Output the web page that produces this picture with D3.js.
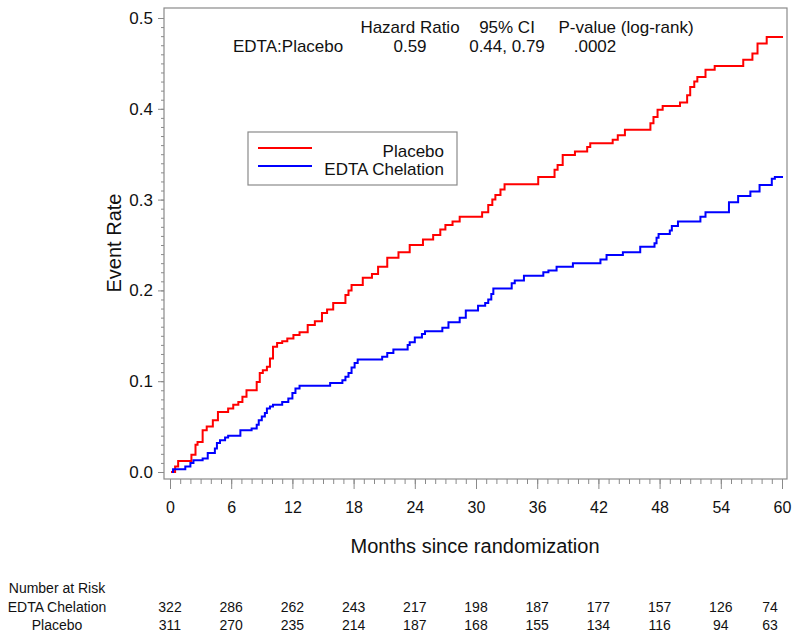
<!DOCTYPE html>
<html>
<head>
<meta charset="utf-8">
<script src="https://cdn.jsdelivr.net/npm/d3@7"></script>
<style>
  body { margin: 0; background: #fff; }
  svg { display: block; font-family: "Liberation Sans", Arial, Helvetica, sans-serif; }
</style>
</head>
<body>
<svg id="chart" width="800" height="640"></svg>
<script>
// ---------- data ----------
const placeboTimes = [0.1, 0.5, 0.8, 2.1, 2.5, 2.7, 3.2, 3.6, 4.2, 4.7, 5.7, 6.2, 6.7, 7.1, 7.5, 8.5, 8.8, 9.1, 9.5, 9.8, 10.1, 10.5, 11.0, 11.5, 12.1, 12.7, 13.5, 14.2, 14.9, 15.4, 16.0, 17.2, 17.5, 17.8, 18.9, 19.8, 20.4, 21.3, 22.4, 23.5, 24.8, 25.8, 26.5, 27.0, 27.7, 28.4, 30.6, 31.2, 31.6, 31.9, 32.4, 32.8, 36.1, 37.7, 38.0, 38.5, 39.7, 40.9, 41.2, 43.4, 43.9, 44.6, 47.1, 47.4, 47.8, 48.3, 50.0, 50.7, 51.0, 51.4, 51.7, 52.5, 53.4, 56.2, 57.1, 57.6, 58.5, 60.1];
const placeboRates = [0, 0.006, 0.012, 0.019, 0.030, 0.033, 0.046, 0.050, 0.057, 0.066, 0.070, 0.074, 0.077, 0.083, 0.090, 0.099, 0.109, 0.112, 0.116, 0.125, 0.138, 0.142, 0.144, 0.147, 0.151, 0.154, 0.162, 0.166, 0.175, 0.179, 0.186, 0.195, 0.200, 0.206, 0.214, 0.218, 0.226, 0.236, 0.242, 0.250, 0.256, 0.261, 0.267, 0.272, 0.276, 0.281, 0.286, 0.294, 0.300, 0.305, 0.311, 0.317, 0.325, 0.333, 0.338, 0.349, 0.353, 0.358, 0.362, 0.366, 0.371, 0.377, 0.384, 0.391, 0.399, 0.403, 0.407, 0.415, 0.424, 0.430, 0.435, 0.443, 0.447, 0.454, 0.461, 0.472, 0.479, 0.479];

const edtaTimes = [0.2, 0.3, 1.5, 2.0, 2.3, 3.2, 3.7, 4.4, 4.6, 4.9, 5.4, 5.7, 6.9, 8.0, 8.5, 8.7, 9.0, 9.3, 9.5, 9.8, 10.1, 11.0, 11.6, 12.0, 12.3, 12.7, 15.7, 16.9, 17.2, 17.5, 17.8, 18.1, 18.4, 20.8, 21.3, 21.9, 23.3, 23.5, 24.0, 24.7, 25.0, 26.7, 27.3, 28.4, 29.0, 30.2, 30.9, 31.2, 31.5, 31.7, 33.5, 33.8, 34.7, 36.6, 37.1, 37.9, 39.5, 42.2, 42.8, 44.4, 46.1, 47.5, 47.7, 47.9, 49.0, 49.2, 49.8, 52.0, 52.5, 54.8, 55.7, 56.9, 57.8, 59.0, 59.3, 60.1];
const edtaRates = [0, 0.003, 0.006, 0.010, 0.013, 0.015, 0.021, 0.026, 0.032, 0.035, 0.038, 0.040, 0.046, 0.048, 0.052, 0.057, 0.061, 0.065, 0.070, 0.072, 0.074, 0.077, 0.081, 0.087, 0.092, 0.095, 0.098, 0.101, 0.105, 0.109, 0.115, 0.120, 0.124, 0.127, 0.131, 0.135, 0.140, 0.143, 0.148, 0.152, 0.155, 0.159, 0.165, 0.170, 0.178, 0.183, 0.186, 0.190, 0.196, 0.202, 0.208, 0.211, 0.216, 0.220, 0.222, 0.226, 0.230, 0.234, 0.239, 0.242, 0.248, 0.252, 0.258, 0.262, 0.266, 0.271, 0.276, 0.281, 0.286, 0.297, 0.304, 0.309, 0.316, 0.323, 0.325, 0.325];

const xTickValues = [0, 6, 12, 18, 24, 30, 36, 42, 48, 54, 60];
const yTickValues = [0.0, 0.1, 0.2, 0.3, 0.4, 0.5];
const riskGroups = ["EDTA Chelation", "Placebo"];
const riskEdta = [322, 286, 262, 243, 217, 198, 187, 177, 157, 126, 74];
const riskPlacebo = [311, 270, 235, 214, 187, 168, 155, 134, 116, 94, 63];
const legendLabels = ["Placebo", "EDTA Chelation"];
const statHeaders = ["Hazard Ratio", "95% CI", "P-value (log-rank)"];
const statValues = ["0.59", "0.44, 0.79", ".0002"];
const statRowLabel = "EDTA:Placebo";

// ---------- layout ----------
const svg = d3.select("#chart");
const box = { left: 164, right: 787, top: 8, bottom: 479 };
const x = d3.scaleLinear().domain([0, 60]).range([170, 782]);
const y = d3.scaleLinear().domain([0, 0.5]).range([472, 18]);
const axisColor = "#8a8a8a";

// frame
svg.append("rect")
  .attr("x", box.left).attr("y", box.top)
  .attr("width", box.right - box.left).attr("height", box.bottom - box.top)
  .attr("fill", "none").attr("stroke", axisColor).attr("stroke-width", 1.2);

// y axis ticks
const yMinor = d3.range(0, 51).map(d => d / 100);
const yMinorAxis = svg.append("g").attr("transform", `translate(${box.left},0)`)
  .call(d3.axisLeft(y).tickValues(yMinor).tickSize(3).tickFormat(""));
const yMajorAxis = svg.append("g").attr("transform", `translate(${box.left},0)`)
  .call(d3.axisLeft(y).tickValues(yTickValues).tickSize(6).tickPadding(5).tickFormat(d3.format(".1f")));
[yMinorAxis, yMajorAxis].forEach(g => {
  g.select(".domain").remove();
  g.selectAll("line").attr("stroke", axisColor);
});
yMajorAxis.selectAll("text").attr("font-size", 17).attr("fill", "#111")
  .attr("font-family", '"Liberation Sans", Arial, sans-serif');

// x axis ticks
const xMinor = d3.range(0, 61);
const xMinorAxis = svg.append("g").attr("transform", `translate(0,${box.bottom})`)
  .call(d3.axisBottom(x).tickValues(xMinor).tickSize(5).tickFormat(""));
const xMajorAxis = svg.append("g").attr("transform", `translate(0,${box.bottom})`)
  .call(d3.axisBottom(x).tickValues(xTickValues).tickSize(10).tickFormat(d3.format("d")));
[xMinorAxis, xMajorAxis].forEach(g => {
  g.select(".domain").remove();
  g.selectAll("line").attr("stroke", axisColor);
});
xMajorAxis.selectAll("text").attr("font-size", 16).attr("fill", "#111")
  .attr("y", 34).attr("dy", 0)
  .attr("font-family", '"Liberation Sans", Arial, sans-serif');

// axis titles
svg.append("text")
  .attr("x", 475).attr("y", 553).attr("text-anchor", "middle")
  .attr("font-size", 20).attr("fill", "#111")
  .text("Months since randomization");
svg.append("text")
  .attr("transform", "translate(121,243) rotate(-90)")
  .attr("text-anchor", "middle")
  .attr("font-size", 20).attr("fill", "#111")
  .text("Event Rate");

// curves
const line = d3.line().x(d => x(d[0])).y(d => y(d[1])).curve(d3.curveStepAfter);
const series = [
  { times: placeboTimes, rates: placeboRates, color: "#ff0000" },
  { times: edtaTimes, rates: edtaRates, color: "#0000ff" }
];
series.forEach(s => {
  const pts = s.times.map((t, i) => [t, s.rates[i]]);
  svg.append("path").datum(pts)
    .attr("d", line).attr("fill", "none")
    .attr("stroke", s.color).attr("stroke-width", 2);
});

// legend
const legendColors = ["#ff0000", "#0000ff"];
svg.append("rect").attr("x", 248).attr("y", 132).attr("width", 209).attr("height", 53)
  .attr("fill", "#fff").attr("stroke", axisColor).attr("stroke-width", 1.2);
legendLabels.forEach((lab, i) => {
  const ly = 148 + i * 18;
  svg.append("line").attr("x1", 258).attr("x2", 312).attr("y1", ly).attr("y2", ly)
    .attr("stroke", legendColors[i]).attr("stroke-width", 2);
  svg.append("text").attr("x", 444).attr("y", ly + 9).attr("text-anchor", "end")
    .attr("font-size", 17).attr("fill", "#111").text(lab);
});

// statistics annotation
const statX = [410, 507, 626];
const statValX = [410, 507, 595];
statHeaders.forEach((h, i) => {
  svg.append("text").attr("x", statX[i]).attr("y", 33).attr("text-anchor", "middle")
    .attr("font-size", 17).attr("fill", "#111").text(h);
  svg.append("text").attr("x", statValX[i]).attr("y", 52).attr("text-anchor", "middle")
    .attr("font-size", 17).attr("fill", "#111").text(statValues[i]);
});
svg.append("text").attr("x", 233).attr("y", 52)
  .attr("font-size", 17).attr("fill", "#111").text(statRowLabel);

// number at risk table
svg.append("text").attr("x", 57).attr("y", 593).attr("text-anchor", "middle")
  .attr("font-size", 14).attr("fill", "#111").text("Number at Risk");
const riskRows = [riskEdta, riskPlacebo];
riskRows.forEach((row, r) => {
  const ry = 612 + r * 18;
  svg.append("text").attr("x", 57).attr("y", ry).attr("text-anchor", "middle")
    .attr("font-size", 14).attr("fill", "#111").text(riskGroups[r]);
  row.forEach((v, i) => {
    svg.append("text").attr("x", Math.min(x(xTickValues[i]), 770)).attr("y", ry)
      .attr("text-anchor", "middle").attr("font-size", 14).attr("fill", "#111").text(v);
  });
});
</script>
</body>
</html>
